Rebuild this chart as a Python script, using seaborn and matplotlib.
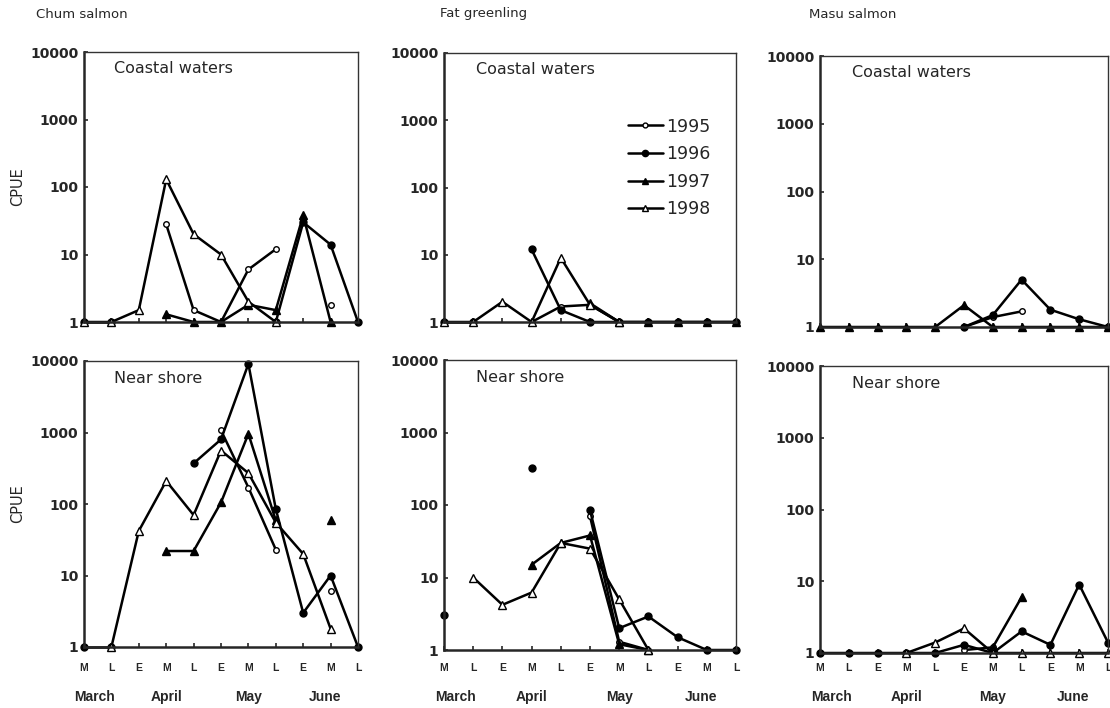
import numpy as np
import pandas as pd
import matplotlib.pyplot as plt
import matplotlib.transforms as mtransforms
import seaborn as sns
from matplotlib.lines import Line2D

nan = np.nan

# x axis: early / middle / late part of each month
periods = ["M", "L", "E", "M", "L", "E", "M", "L", "E", "M", "L"]
months = ["March", "April", "May", "June"]
month_pos = [0.4, 3.0, 6.0, 8.8]
years = ["1995", "1996", "1997", "1998"]
species = ["Chum salmon", "Fat greenling", "Masu salmon"]
areas = ["Coastal waters", "Near shore"]
y_ticks = [1, 10, 100, 1000, 10000]

# Chum salmon
chum_coastal_1995 = [nan, nan, nan, 28, 1.5, 1, 6, 12, nan, 1.8, nan]
chum_coastal_1996 = [1, 1, nan, nan, nan, nan, nan, 1, 30, 14, 1]
chum_coastal_1997 = [nan, nan, nan, 1.3, 1, 1, 1.8, 1.5, 38, 1, nan]
chum_coastal_1998 = [1, 1, 1.5, 130, 20, 10, 2, 1, nan, nan, nan]
chum_near_1995 = [nan, nan, nan, nan, nan, 1070, 170, 23, nan, 6, nan]
chum_near_1996 = [1, 1, nan, nan, 370, 800, 9100, 85, 3, 10, 1]
chum_near_1997 = [nan, nan, nan, 22, 22, 105, 960, 59, nan, 60, nan]
chum_near_1998 = [nan, 1, 42, 210, 70, 560, 270, 55, 20, 1.8, nan]

# Fat greenling
fat_coastal_1995 = [nan, nan, nan, 1, 1.7, 1.8, 1, nan, nan, nan, nan]
fat_coastal_1996 = [1, 1, nan, 12, 1.5, 1, 1, 1, 1, 1, 1]
fat_coastal_1997 = [nan, nan, nan, nan, nan, 1.9, 1, 1, 1, 1, 1]
fat_coastal_1998 = [1, 1, 2, 1, 9, 1.8, 1, nan, nan, nan, nan]
fat_near_1995 = [nan, nan, nan, nan, nan, 70, 1.3, 1, nan, nan, nan]
fat_near_1996 = [3, nan, nan, 325, nan, 85, 2, 2.9, 1.5, 1, 1]
fat_near_1997 = [nan, nan, nan, 15, 30, 38, 1.2, 1, nan, nan, nan]
fat_near_1998 = [nan, 10, 4.2, 6.2, 30, 25, 5, 1, nan, nan, nan]

# Masu salmon
masu_coastal_1995 = [nan, nan, nan, nan, nan, 1, 1.4, 1.7, nan, nan, nan]
masu_coastal_1996 = [nan, nan, nan, nan, nan, 1, 1.5, 5, 1.8, 1.3, 1]
masu_coastal_1997 = [1, 1, 1, 1, 1, 2.1, 1, 1, 1, 1, 1]
masu_coastal_1998 = [nan] * 11
masu_near_1995 = [nan, nan, nan, nan, nan, 1.1, 1.2, nan, nan, nan, nan]
masu_near_1996 = [1, 1, 1, 1, 1, 1.3, 1, 2, 1.3, 9, 1.4]
masu_near_1997 = [nan, nan, nan, nan, nan, nan, 1.2, 6, nan, nan, nan]
masu_near_1998 = [nan, nan, nan, 1, 1.4, 2.2, 1, 1, 1, 1, 1]

panels = {
    ("Chum salmon", "Coastal waters"): [chum_coastal_1995, chum_coastal_1996, chum_coastal_1997, chum_coastal_1998],
    ("Chum salmon", "Near shore"): [chum_near_1995, chum_near_1996, chum_near_1997, chum_near_1998],
    ("Fat greenling", "Coastal waters"): [fat_coastal_1995, fat_coastal_1996, fat_coastal_1997, fat_coastal_1998],
    ("Fat greenling", "Near shore"): [fat_near_1995, fat_near_1996, fat_near_1997, fat_near_1998],
    ("Masu salmon", "Coastal waters"): [masu_coastal_1995, masu_coastal_1996, masu_coastal_1997, masu_coastal_1998],
    ("Masu salmon", "Near shore"): [masu_near_1995, masu_near_1996, masu_near_1997, masu_near_1998],
}

# long table; a new segment starts after every gap
rows = []
for (sp, area), series in panels.items():
    for year, values in zip(years, series):
        seg = 0
        for pos, v in enumerate(values):
            if np.isnan(v):
                seg += 1
                continue
            rows.append({"species": sp, "area": area, "year": year, "pos": pos, "cpue": v, "seg": seg})
df = pd.DataFrame(rows)

year_style = {
    "1995": dict(marker="o", ms=4, mfc="white"),
    "1996": dict(marker="o", ms=5, mfc="black"),
    "1997": dict(marker="^", ms=5.5, mfc="black"),
    "1998": dict(marker="^", ms=5.5, mfc="white"),
}

sns.set_style("ticks")
plt.rcParams["font.family"] = ["DejaVu Sans"]
narrow = ["Liberation Sans Narrow", "Liberation Sans", "DejaVu Sans"]

W, H = 1110, 708
fig = plt.figure(figsize=(W / 100, H / 100), dpi=100)

# axes boxes in pixels (left, top, right, bottom)
boxes = {
    ("Chum salmon", "Coastal waters"): (84, 52, 358, 322),
    ("Chum salmon", "Near shore"): (84, 361, 358, 647),
    ("Fat greenling", "Coastal waters"): (444, 53, 736, 322),
    ("Fat greenling", "Near shore"): (444, 360, 736, 650),
    ("Masu salmon", "Coastal waters"): (820, 56, 1108, 327),
    ("Masu salmon", "Near shore"): (820, 366, 1108, 653),
}
title_x = {"Chum salmon": 82, "Fat greenling": 484, "Masu salmon": 853}

for (sp, area), (x0, y0, x1, y1) in boxes.items():
    ax = fig.add_axes([x0 / W, 1 - y1 / H, (x1 - x0) / W, (y1 - y0) / H])
    sub = df[(df["species"] == sp) & (df["area"] == area)]

    for year in years:
        d = sub[sub["year"] == year]
        if d.empty:
            continue
        st = year_style[year]
        sns.lineplot(
            data=d, x="pos", y="cpue", units="seg", estimator=None, sort=False,
            color="black", lw=1.8, marker=st["marker"], ms=st["ms"],
            mfc=st["mfc"], mec="black", mew=1.0, clip_on=False,
            legend=False, ax=ax,
        )

    ax.set_yscale("log")
    ax.set_ylim(1, 10000)
    ax.set_xlim(0, 10)
    ax.set_yticks(y_ticks)
    ax.set_yticklabels([str(t) for t in y_ticks], fontsize=10, fontweight="bold")
    ax.minorticks_off()
    ax.set_xticks(range(len(periods)))
    ax.tick_params(direction="in", length=3, width=1.2, pad=4)
    ax.set_xlabel("")
    ax.set_ylabel("")

    for side in ["top", "right"]:
        ax.spines[side].set_linewidth(1.0)
        ax.spines[side].set_color("#333333")
    for side in ["left", "bottom"]:
        ax.spines[side].set_linewidth(1.8)

    ax.text(0.11, 0.965, area, transform=ax.transAxes, fontsize=11.5, va="top", ha="left")

    if area == "Near shore":
        ax.set_xticklabels(periods, fontsize=7.5, fontweight="bold", family=narrow)
        ax.tick_params(axis="x", pad=(667 - y1) * 0.72 - 3)
        trans = mtransforms.blended_transform_factory(ax.transData, fig.transFigure)
        for m, p in zip(months, month_pos):
            ax.text(p, 1 - 697 / H, m, transform=trans, ha="center", va="center",
                    fontsize=10, fontweight="bold", family=narrow)
    else:
        ax.set_xticklabels([])
        fig.text(title_x[sp] / W, 1 - 14 / H, sp, ha="center", va="center", fontsize=9.5)

    if sp == "Chum salmon":
        ax.set_ylabel("CPUE", fontsize=10.5, labelpad=4)

    if sp == "Fat greenling" and area == "Coastal waters":
        handles = [
            Line2D([0], [0], color="black", lw=1.8, marker=year_style[y]["marker"],
                   ms=year_style[y]["ms"] - 0.5, mfc=year_style[y]["mfc"], mec="black")
            for y in years
        ]
        ax.legend(handles, years, loc="upper left", bbox_to_anchor=(0.63, 0.76),
                  frameon=False, fontsize=12.5, handlelength=2.0, handletextpad=0.2,
                  labelspacing=0.55, borderpad=0, borderaxespad=0)

fig.savefig("out.png", dpi=100)
plt.close(fig)
